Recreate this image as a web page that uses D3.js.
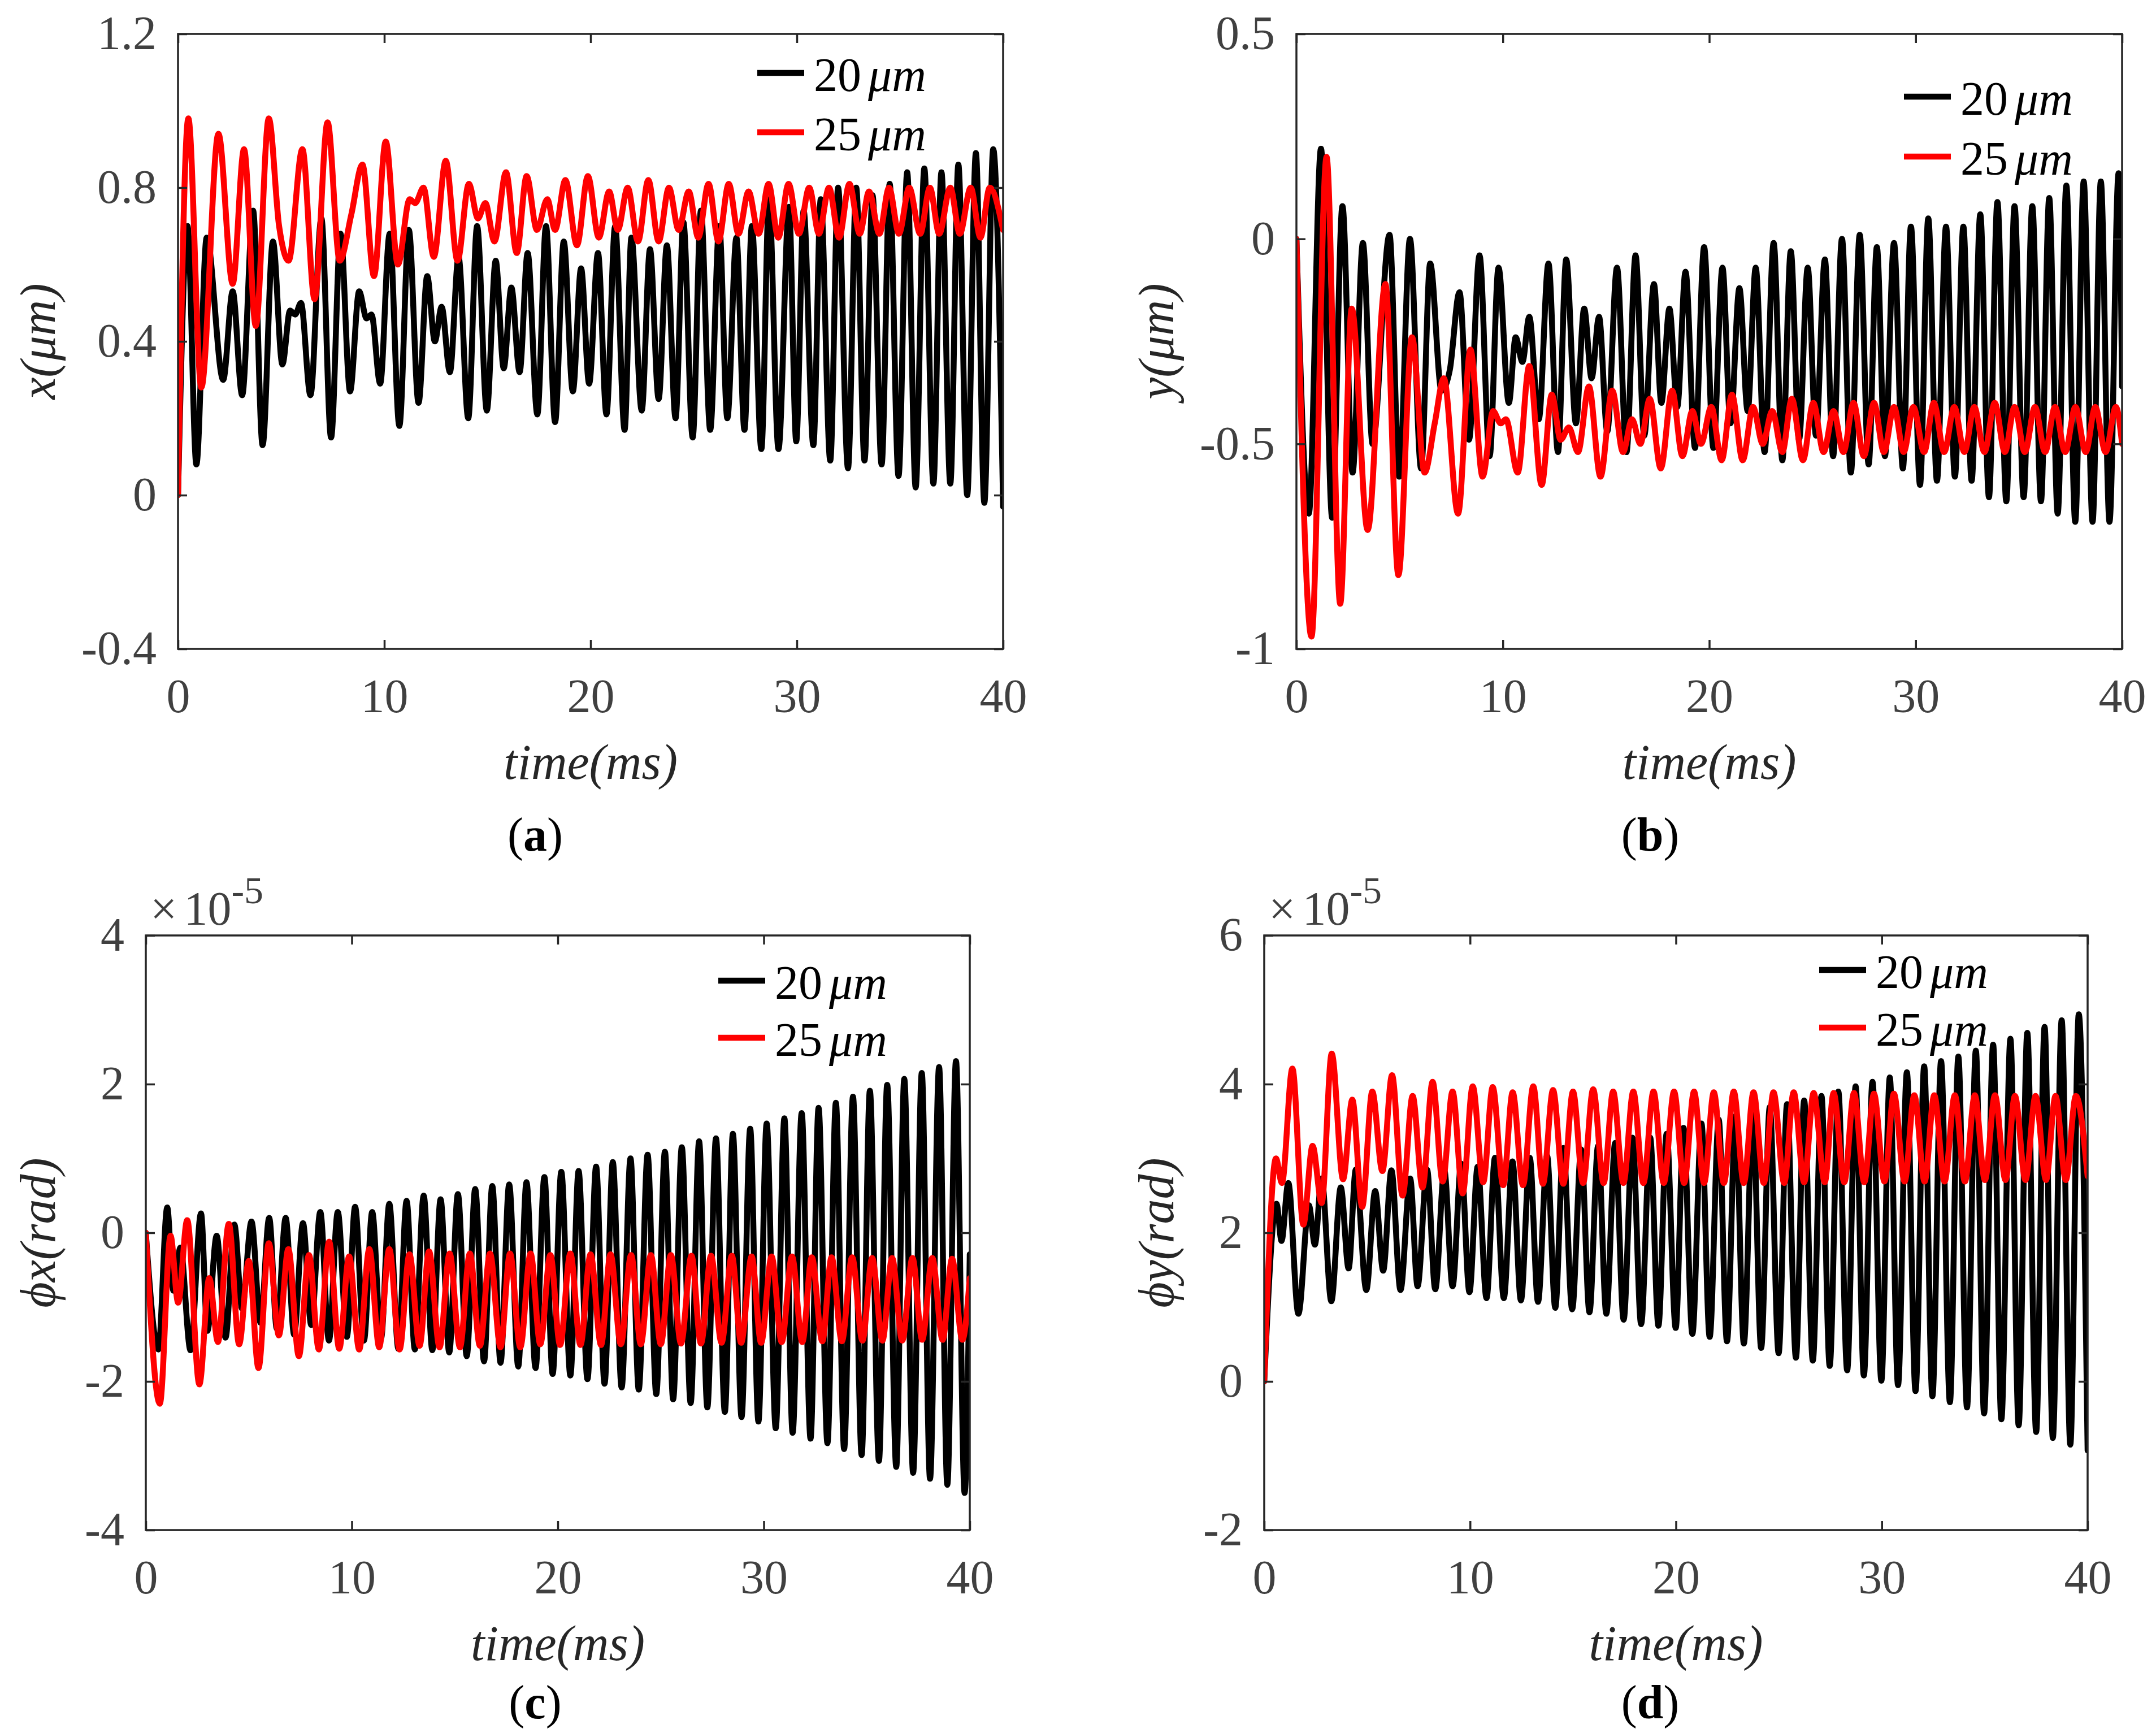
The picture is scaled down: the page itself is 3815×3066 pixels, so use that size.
<!DOCTYPE html>
<html>
<head>
<meta charset="utf-8">
<script src="https://cdn.jsdelivr.net/npm/d3@7"></script>
<style>
  body { margin: 0; background: #fff; }
</style>
</head>
<body>
<div id="chart"></div>
<script>
// values: [time (ms), value] at each peak / trough
var timeTicks = [0, 10, 20, 30, 40];
var seriesNames = ["20", "25"];

// (a) x displacement (um)
var xTicks = [-0.4, 0, 0.4, 0.8, 1.2];
var x20 = [[0,0],[0.46,0.70],[0.89,0.08],[1.39,0.67],[2.19,0.30],[2.65,0.53],[3.11,0.26],[3.64,0.74],[4.1,0.13],[4.6,0.66],
  [5.06,0.34],[5.43,0.48],[5.68,0.47],[5.96,0.50],[6.42,0.26],[6.95,0.72],[7.42,0.15],[7.88,0.68],[8.34,0.27],[8.78,0.53],
  [9.14,0.46],[9.38,0.47],[9.8,0.29],[10.26,0.68],[10.73,0.18],[11.19,0.69],[11.66,0.24],[12.08,0.57],[12.45,0.40],[12.78,0.49],
  [13.18,0.32],[13.6,0.62],[14.07,0.20],[14.5,0.70],[14.97,0.22],[15.4,0.61],[15.79,0.33],[16.16,0.54],[16.56,0.32],[16.95,0.63],
  [17.42,0.21],[17.84,0.70],[18.28,0.19],[18.7,0.66],[19.14,0.27],[19.54,0.59],[19.93,0.29],[20.36,0.63],[20.77,0.21],[21.19,0.70],
  [21.65,0.17],[21.98,0.67],[22.48,0.22],[22.88,0.64],[23.3,0.25],[23.7,0.65],[24.12,0.20],[24.5,0.71],[24.95,0.15],[25.35,0.74],
  [25.8,0.17],[26.24,0.70],[26.63,0.20],[27.07,0.67],[27.46,0.17],[27.82,0.70],[28.28,0.12],[28.65,0.77],[29.11,0.12],[29.62,0.75],
  [29.97,0.14],[30.33,0.74],[30.8,0.13],[31.16,0.77],[31.62,0.09],[32.0,0.80],[32.48,0.07],[32.88,0.80],[33.28,0.09],[33.67,0.78],
  [34.11,0.08],[34.5,0.81],[34.93,0.05],[35.35,0.84],[35.76,0.02],[36.18,0.85],[36.62,0.03],[37.01,0.84],[37.44,0.03],[37.83,0.86],
  [38.26,0.00],[38.68,0.89],[39.09,-0.02],[39.52,0.90],[40,-0.03]];
var x25 = [[0,0],[0.5,0.98],[1.13,0.28],[1.96,0.94],[2.65,0.55],[3.2,0.90],[3.77,0.44],[4.4,0.98],[4.9,0.70],[5.36,0.61],
  [6.03,0.90],[6.62,0.51],[7.25,0.97],[7.84,0.61],[8.4,0.73],[8.94,0.86],[9.5,0.57],[10.07,0.92],[10.66,0.60],[11.23,0.77],
  [11.5,0.76],[11.9,0.80],[12.4,0.62],[12.98,0.87],[13.55,0.61],[14.1,0.81],[14.54,0.72],[14.9,0.76],[15.34,0.66],[15.9,0.84],
  [16.42,0.63],[16.9,0.83],[17.4,0.69],[17.9,0.77],[18.28,0.69],[18.78,0.82],[19.34,0.65],[19.87,0.83],[20.4,0.67],[20.9,0.79],
  [21.32,0.69],[21.8,0.80],[22.3,0.66],[22.8,0.82],[23.3,0.66],[23.8,0.80],[24.27,0.69],[24.76,0.79],[25.22,0.67],[25.72,0.81],
  [26.2,0.66],[26.7,0.81],[27.17,0.68],[27.66,0.79],[28.15,0.68],[28.63,0.81],[29.1,0.67],[29.6,0.81],[30.1,0.68],[30.6,0.80],
  [31.07,0.68],[31.56,0.80],[32.05,0.67],[32.55,0.81],[33.05,0.68],[33.5,0.79],[34.0,0.68],[34.47,0.80],[34.95,0.68],[35.45,0.80],
  [35.98,0.68],[36.45,0.80],[36.9,0.68],[37.44,0.80],[37.9,0.68],[38.43,0.80],[38.9,0.67],[39.35,0.80],[40,0.69]];

// (b) y displacement (um)
var yTicks = [-1, -0.5, 0, 0.5];
var y20 = [[0,0],[0.6,-0.67],[1.19,0.22],[1.73,-0.68],[2.23,0.08],[2.72,-0.57],[3.22,-0.01],[3.69,-0.50],[4.51,0.01],[4.98,-0.58],
  [5.5,0.00],[6.04,-0.56],[6.48,-0.06],[7.03,-0.37],[7.43,-0.32],[7.9,-0.13],[8.36,-0.49],[8.87,-0.04],[9.36,-0.53],[9.79,-0.07],
  [10.29,-0.40],[10.62,-0.24],[10.95,-0.30],[11.28,-0.19],[11.74,-0.44],[12.21,-0.06],[12.67,-0.52],[13.07,-0.05],[13.54,-0.45],[13.94,-0.17],
  [14.3,-0.34],[14.66,-0.19],[15.06,-0.47],[15.53,-0.07],[15.99,-0.52],[16.43,-0.04],[16.85,-0.48],[17.32,-0.11],[17.68,-0.40],[18.07,-0.17],
  [18.45,-0.41],[18.85,-0.08],[19.31,-0.51],[19.75,-0.02],[20.2,-0.51],[20.64,-0.07],[21.03,-0.45],[21.46,-0.12],[21.86,-0.42],[22.25,-0.07],
  [22.68,-0.52],[23.12,-0.01],[23.54,-0.54],[23.95,-0.03],[24.35,-0.49],[24.77,-0.07],[25.17,-0.48],[25.6,-0.05],[26.0,-0.53],[26.43,0.00],
  [26.86,-0.57],[27.29,0.01],[27.72,-0.55],[28.12,-0.02],[28.51,-0.53],[28.95,-0.01],[29.38,-0.56],[29.77,0.03],[30.21,-0.60],[30.61,0.05],
  [31.03,-0.59],[31.47,0.03],[31.9,-0.58],[32.31,0.03],[32.71,-0.59],[33.13,0.06],[33.55,-0.63],[33.96,0.09],[34.39,-0.64],[34.79,0.08],
  [35.23,-0.63],[35.65,0.08],[36.07,-0.64],[36.47,0.10],[36.88,-0.67],[37.3,0.13],[37.73,-0.69],[38.14,0.14],[38.57,-0.69],[38.97,0.14],
  [39.39,-0.69],[39.83,0.16],[40,-0.36]];
var y25 = [[0,0],[0.73,-0.97],[1.46,0.20],[2.12,-0.89],[2.68,-0.17],[3.45,-0.71],[4.31,-0.11],[4.94,-0.82],[5.6,-0.24],[6.21,-0.57],
  [6.7,-0.45],[7.14,-0.34],[7.83,-0.67],[8.43,-0.27],[9.02,-0.58],[9.53,-0.42],[9.9,-0.45],[10.15,-0.44],[10.72,-0.57],[11.28,-0.31],
  [11.88,-0.60],[12.37,-0.38],[12.8,-0.49],[13.2,-0.46],[13.64,-0.52],[14.17,-0.36],[14.73,-0.58],[15.3,-0.37],[15.82,-0.52],[16.26,-0.44],
  [16.66,-0.50],[17.12,-0.39],[17.65,-0.56],[18.2,-0.37],[18.7,-0.53],[19.18,-0.42],[19.6,-0.50],[20.1,-0.41],[20.6,-0.54],[21.1,-0.38],
  [21.62,-0.54],[22.12,-0.41],[22.59,-0.50],[23.05,-0.42],[23.54,-0.52],[24.0,-0.39],[24.54,-0.54],[25.04,-0.40],[25.54,-0.52],[26.02,-0.42],
  [26.5,-0.52],[26.99,-0.40],[27.49,-0.53],[27.98,-0.40],[28.46,-0.52],[28.95,-0.41],[29.42,-0.52],[29.89,-0.41],[30.41,-0.52],[30.88,-0.40],
  [31.38,-0.52],[31.87,-0.41],[32.36,-0.52],[32.84,-0.41],[33.33,-0.52],[33.83,-0.40],[34.32,-0.52],[34.79,-0.41],[35.29,-0.52],[35.78,-0.41],
  [36.27,-0.52],[36.75,-0.41],[37.24,-0.52],[37.74,-0.41],[38.24,-0.52],[38.7,-0.41],[39.2,-0.52],[39.7,-0.41],[40,-0.50]];

// (c) phi x (rad), units of 1e-5
var phxTicks = [-4, -2, 0, 2, 4];
var phx20 = [[0,0],[0.61,-1.57],[1.04,0.34],[1.34,-0.78],[1.68,-0.20],[2.17,-1.58],[2.68,0.26],[2.99,-1.32],[3.44,-0.04],[3.87,-1.41],
  [4.3,0.11],[4.67,-1.02],[5.13,0.15],[5.57,-1.21],[5.99,0.20],[6.36,-1.29],[6.79,0.20],[7.2,-1.37],[7.63,0.13],[8.03,-1.24],
  [8.47,0.28],[8.89,-1.45],[9.32,0.28],[9.76,-1.40],[10.16,0.35],[10.59,-1.45],[10.99,0.28],[11.42,-1.42],[11.82,0.39],[12.26,-1.56],
  [12.66,0.43],[13.06,-1.57],[13.49,0.50],[13.91,-1.58],[14.31,0.45],[14.73,-1.61],[15.15,0.52],[15.58,-1.66],[15.99,0.59],[16.42,-1.73],
  [16.82,0.63],[17.22,-1.75],[17.64,0.65],[18.08,-1.80],[18.48,0.68],[18.92,-1.82],[19.35,0.75],[19.75,-1.90],[20.17,0.82],[20.61,-1.92],
  [21.01,0.83],[21.44,-1.97],[21.86,0.89],[22.27,-2.03],[22.67,0.95],[23.1,-2.08],[23.53,1.00],[23.93,-2.11],[24.36,1.05],[24.78,-2.17],
  [25.2,1.09],[25.6,-2.24],[26.02,1.15],[26.45,-2.29],[26.86,1.23],[27.26,-2.35],[27.68,1.27],[28.11,-2.41],[28.5,1.33],[28.92,-2.48],
  [29.34,1.40],[29.74,-2.54],[30.14,1.47],[30.58,-2.63],[31.0,1.54],[31.4,-2.69],[31.84,1.61],[32.27,-2.77],[32.66,1.68],[33.09,-2.83],
  [33.5,1.75],[33.9,-2.91],[34.33,1.83],[34.75,-2.99],[35.15,1.91],[35.59,-3.07],[35.99,1.99],[36.43,-3.15],[36.82,2.07],[37.25,-3.23],
  [37.67,2.15],[38.07,-3.31],[38.51,2.23],[38.91,-3.39],[39.33,2.31],[39.75,-3.50],[40,-0.29]];
var phx25 = [[0,0],[0.68,-2.30],[1.2,-0.04],[1.57,-0.94],[2.01,0.17],[2.6,-2.04],[3.08,-0.61],[3.5,-1.47],[4.03,0.12],[4.53,-1.50],
  [5.0,-0.38],[5.47,-1.82],[5.97,-0.14],[6.46,-1.38],[6.92,-0.22],[7.43,-1.66],[7.92,-0.30],[8.4,-1.57],[8.9,-0.12],[9.39,-1.56],
  [9.87,-0.32],[10.36,-1.57],[10.85,-0.22],[11.33,-1.54],[11.82,-0.22],[12.32,-1.57],[12.8,-0.29],[13.29,-1.52],[13.75,-0.25],[14.26,-1.54],
  [14.75,-0.28],[15.25,-1.54],[15.73,-0.28],[16.22,-1.52],[16.71,-0.28],[17.22,-1.54],[17.68,-0.28],[18.18,-1.54],[18.68,-0.28],[19.15,-1.50],
  [19.64,-0.30],[20.11,-1.51],[20.61,-0.28],[21.1,-1.51],[21.59,-0.29],[22.1,-1.51],[22.56,-0.29],[23.06,-1.50],[23.56,-0.30],[24.03,-1.50],
  [24.52,-0.30],[25.0,-1.50],[25.49,-0.30],[25.98,-1.49],[26.49,-0.31],[26.95,-1.49],[27.44,-0.31],[27.95,-1.48],[28.45,-0.31],[28.9,-1.48],
  [29.41,-0.32],[29.87,-1.48],[30.38,-0.32],[30.87,-1.47],[31.37,-0.32],[31.87,-1.47],[32.33,-0.33],[32.84,-1.46],[33.29,-0.33],[33.79,-1.46],
  [34.29,-0.33],[34.79,-1.45],[35.26,-0.34],[35.76,-1.45],[36.23,-0.34],[36.72,-1.45],[37.22,-0.34],[37.69,-1.44],[38.18,-0.34],[38.68,-1.44],
  [39.14,-0.35],[39.64,-1.44],[40,-0.61]];

// (d) phi y (rad), units of 1e-5
var phyTicks = [-2, 0, 2, 4, 6];
var phy20 = [[0,0],[0.6,2.39],[0.84,1.89],[1.17,2.67],[1.66,0.91],[2.17,2.37],[2.46,1.84],[2.79,2.73],[3.26,1.08],[3.72,2.61],
  [4.1,1.52],[4.45,2.85],[4.96,1.23],[5.39,2.56],[5.78,1.49],[6.18,2.84],[6.62,1.23],[7.09,2.73],[7.45,1.28],[7.91,2.85],
  [8.31,1.24],[8.75,2.84],[9.15,1.28],[9.57,2.93],[9.97,1.20],[10.37,2.89],[10.8,1.12],[11.21,3.01],[11.64,1.12],[12.06,2.96],
  [12.47,1.09],[12.9,3.01],[13.3,1.07],[13.74,3.04],[14.14,0.99],[14.53,3.14],[14.96,0.97],[15.4,3.12],[15.8,0.93],[16.22,3.17],
  [16.62,0.91],[17.05,3.21],[17.46,0.83],[17.89,3.28],[18.31,0.77],[18.75,3.28],[19.15,0.75],[19.55,3.33],[19.99,0.72],[20.37,3.41],
  [20.8,0.64],[21.24,3.47],[21.64,0.60],[22.08,3.52],[22.48,0.54],[22.9,3.57],[23.3,0.51],[23.74,3.64],[24.14,0.45],[24.56,3.69],
  [24.99,0.38],[25.4,3.73],[25.83,0.32],[26.23,3.78],[26.65,0.28],[27.07,3.84],[27.47,0.21],[27.89,3.90],[28.32,0.15],[28.73,3.97],
  [29.13,0.08],[29.55,4.03],[29.98,0.01],[30.39,4.09],[30.79,-0.05],[31.22,4.16],[31.64,-0.13],[32.06,4.24],[32.46,-0.20],[32.88,4.31],
  [33.31,-0.28],[33.72,4.37],[34.14,-0.35],[34.57,4.45],[34.97,-0.43],[35.41,4.53],[35.81,-0.51],[36.25,4.61],[36.65,-0.59],[37.07,4.69],
  [37.5,-0.68],[37.91,4.77],[38.31,-0.76],[38.74,4.86],[39.16,-0.85],[39.57,4.94],[40,-0.93]];
var phy25 = [[0,0],[0.57,3.00],[0.86,2.67],[1.37,4.21],[1.9,2.11],[2.35,3.17],[2.79,2.40],[3.28,4.41],[3.83,2.72],[4.28,3.79],
  [4.76,2.35],[5.25,3.90],[5.74,2.83],[6.21,4.12],[6.72,2.50],[7.21,3.84],[7.69,2.61],[8.18,4.03],[8.67,2.69],[9.15,3.90],
  [9.64,2.53],[10.13,3.97],[10.64,2.68],[11.1,3.96],[11.61,2.64],[12.07,3.89],[12.57,2.64],[13.07,3.97],[13.54,2.66],[14.03,3.92],
  [14.53,2.66],[15.0,3.90],[15.49,2.67],[15.98,3.93],[16.49,2.67],[16.95,3.90],[17.45,2.67],[17.93,3.90],[18.42,2.67],[18.91,3.90],
  [19.41,2.67],[19.91,3.90],[20.4,2.67],[20.88,3.90],[21.37,2.67],[21.84,3.89],[22.33,2.67],[22.81,3.90],[23.3,2.67],[23.77,3.89],
  [24.27,2.67],[24.74,3.89],[25.26,2.67],[25.72,3.89],[26.23,2.68],[26.69,3.88],[27.23,2.68],[27.66,3.88],[28.18,2.68],[28.65,3.88],
  [29.15,2.68],[29.62,3.87],[30.13,2.69],[30.59,3.87],[31.11,2.69],[31.58,3.85],[32.08,2.69],[32.55,3.85],[33.05,2.69],[33.55,3.85],
  [34.04,2.69],[34.52,3.85],[35.01,2.71],[35.5,3.85],[36.01,2.71],[36.47,3.84],[36.98,2.71],[37.47,3.84],[37.98,2.71],[38.44,3.84],
  [38.94,2.71],[39.43,3.84],[40,2.76]];

var FONT = "'Liberation Serif', 'Times New Roman', serif",
    AXIS = "#262626",
    TICKTXT = "#404040",
    colors = ["#000000", "#ff0000"];

var svg = d3.select("#chart").append("svg")
    .attr("width", 3815)
    .attr("height", 3066)
    .style("background", "#fff");

var panels = [
  { id: "a", x0: 315, x1: 1775, y0: 60, y1: 1148, yDomain: [-0.4, 1.2], yTicks: xTicks,
    data: [x20, x25], ylab: "x(\u03bcm)", ylabX: 97, xlabY: 1378,
    legX: 1340, legY: [129, 234], capX: 947, capY: 1505, exponent: false },
  { id: "b", x0: 2294, x1: 3755, y0: 60, y1: 1148, yDomain: [-1, 0.5], yTicks: yTicks,
    data: [y20, y25], ylab: "y(\u03bcm)", ylabX: 2076, xlabY: 1378,
    legX: 3369, legY: [171, 277], capX: 2920, capY: 1505, exponent: false },
  { id: "c", x0: 258, x1: 1716, y0: 1655, y1: 2707, yDomain: [-4, 4], yTicks: phxTicks,
    data: [phx20, phx25], ylab: "\u03d5x(rad)", ylabX: 97, xlabY: 2937,
    legX: 1271, legY: [1735, 1836], capX: 947, capY: 3040, exponent: true },
  { id: "d", x0: 2237, x1: 3694, y0: 1655, y1: 2707, yDomain: [-2, 6], yTicks: phyTicks,
    data: [phy20, phy25], ylab: "\u03d5y(rad)", ylabX: 2076, xlabY: 2937,
    legX: 3219, legY: [1716, 1818], capX: 2920, capY: 3040, exponent: true }
];

panels.forEach(function(p) { drawPanel(p); });

function drawPanel(p) {
  var g = svg.append("g").attr("class", "panel-" + p.id);

  var x = d3.scaleLinear().domain([0, 40]).range([p.x0, p.x1]);
  var y = d3.scaleLinear().domain(p.yDomain).range([p.y1, p.y0]);

  g.append("clipPath")
      .attr("id", "clip-" + p.id)
    .append("rect")
      .attr("x", p.x0)
      .attr("y", p.y0)
      .attr("width", p.x1 - p.x0)
      .attr("height", p.y1 - p.y0);

  var line = d3.line()
      .x(function(d) { return x(d[0]); })
      .y(function(d) { return y(d[1]); })
      .curve(d3.curveMonotoneX);

  g.append("g")
      .attr("clip-path", "url(#clip-" + p.id + ")")
    .selectAll("path")
    .data(p.data)
    .enter().append("path")
      .attr("d", line)
      .attr("fill", "none")
      .attr("stroke", function(d, i) { return colors[i]; })
      .attr("stroke-width", 10.5)
      .attr("stroke-linejoin", "round")
      .attr("stroke-linecap", "round");

  var fmt = function(d) { return String(d); };

  var bottom = g.append("g")
      .attr("transform", "translate(0," + p.y1 + ")")
      .call(d3.axisBottom(x).tickValues(timeTicks).tickSize(-16).tickPadding(52).tickFormat(fmt));
  var top = g.append("g")
      .attr("transform", "translate(0," + p.y0 + ")")
      .call(d3.axisTop(x).tickValues(timeTicks).tickSize(-16).tickFormat(""));
  var left = g.append("g")
      .attr("transform", "translate(" + p.x0 + ",0)")
      .call(d3.axisLeft(y).tickValues(p.yTicks).tickSize(-16).tickPadding(38).tickFormat(fmt));
  var right = g.append("g")
      .attr("transform", "translate(" + p.x1 + ",0)")
      .call(d3.axisRight(y).tickValues(p.yTicks).tickSize(-16).tickFormat(""));

  [bottom, top, left, right].forEach(function(a) {
    a.select(".domain").remove();
    a.selectAll(".tick line").attr("stroke", AXIS).attr("stroke-width", 3.5);
    a.selectAll(".tick text")
        .attr("fill", TICKTXT)
        .style("font-family", FONT)
        .style("font-size", "84px");
  });

  g.append("rect")
      .attr("x", p.x0)
      .attr("y", p.y0)
      .attr("width", p.x1 - p.x0)
      .attr("height", p.y1 - p.y0)
      .attr("fill", "none")
      .attr("stroke", AXIS)
      .attr("stroke-width", 3.5);

  // axis titles
  g.append("text")
      .attr("x", (p.x0 + p.x1) / 2)
      .attr("y", p.xlabY)
      .attr("text-anchor", "middle")
      .attr("fill", AXIS)
      .style("font-family", FONT)
      .style("font-style", "italic")
      .style("font-size", "88px")
      .text("time(ms)");

  g.append("text")
      .attr("transform", "translate(" + p.ylabX + "," + ((p.y0 + p.y1) / 2) + ") rotate(-90)")
      .attr("text-anchor", "middle")
      .attr("fill", AXIS)
      .style("font-family", FONT)
      .style("font-style", "italic")
      .style("font-size", "88px")
      .text(p.ylab);

  if (p.exponent) {
    var ex = g.append("text")
        .attr("x", p.x0 + 8)
        .attr("y", p.y0 - 19)
        .attr("fill", TICKTXT)
        .style("font-family", FONT)
        .style("font-size", "84px");
    ex.append("tspan").text("\u00d7");
    ex.append("tspan").attr("dx", 12).text("10");
    ex.append("tspan").attr("dy", -38).style("font-size", "68px").text("-5");
  }

  // legend
  var leg = g.selectAll(".legend")
      .data(seriesNames)
      .enter().append("g")
      .attr("class", "legend");

  leg.append("line")
      .attr("x1", p.legX)
      .attr("x2", p.legX + 83)
      .attr("y1", function(d, i) { return p.legY[i]; })
      .attr("y2", function(d, i) { return p.legY[i]; })
      .attr("stroke", function(d, i) { return colors[i]; })
      .attr("stroke-width", 10.5);

  var lt = leg.append("text")
      .attr("x", p.legX + 100)
      .attr("y", function(d, i) { return p.legY[i] + 32; })
      .attr("fill", "#000")
      .style("font-family", FONT)
      .style("font-size", "84px");
  lt.append("tspan").text(function(d) { return d; });
  lt.append("tspan").attr("dx", 12).style("font-style", "italic").text("\u03bcm");

  // panel caption
  var cap = g.append("text")
      .attr("x", p.capX)
      .attr("y", p.capY)
      .attr("text-anchor", "middle")
      .attr("fill", "#000")
      .style("font-family", FONT)
      .style("font-size", "84px");
  cap.append("tspan").text("(");
  cap.append("tspan").style("font-weight", "bold").text(p.id);
  cap.append("tspan").text(")");
}
</script>
</body>
</html>
